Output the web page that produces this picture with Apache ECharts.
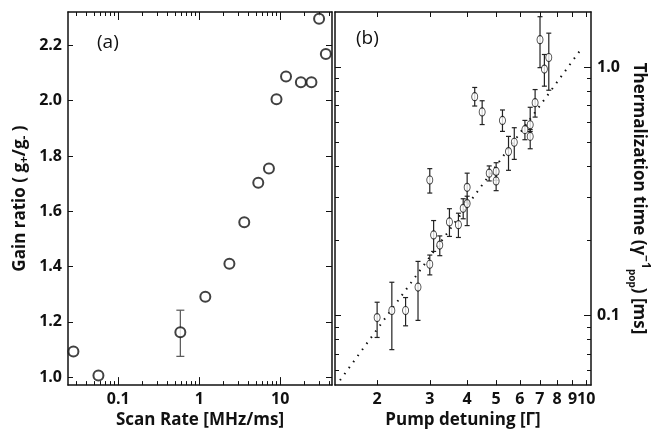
<!DOCTYPE html>
<html>
<head>
<meta charset="utf-8">
<script src="https://cdn.jsdelivr.net/npm/echarts@6/dist/echarts.min.js"></script>
<style>
  html, body { margin: 0; padding: 0; background: #fff; }
  #chart { width: 652px; height: 434px; }
</style>
</head>
<body>
<div id="chart"></div>
<script>
// panel (a): gain ratio vs scan rate
const scanRate = [0.028, 0.057, 0.585, 1.19, 2.36, 3.6, 5.36, 7.26, 9.0, 11.8, 18.0, 24.3, 30.2, 36.6];
const gainRatio = [1.093, 1.006, 1.162, 1.291, 1.41, 1.56, 1.703, 1.755, 2.005, 2.088, 2.067, 2.067, 2.297, 2.169];
const gainLow = [null, null, 1.075, null, null, null, null, null, null, null, null, null, null, null];
const gainHigh = [null, null, 1.242, null, null, null, null, null, null, null, null, null, null, null];
const gainTicks = [1.0, 1.2, 1.4, 1.6, 1.8, 2.0, 2.2];
const scanMajor = [0.1, 1, 10];
const scanMinor = [0.03, 0.04, 0.05, 0.06, 0.07, 0.08, 0.09, 0.2, 0.3, 0.4, 0.5, 0.6, 0.7, 0.8, 0.9,
                   2, 3, 4, 5, 6, 7, 8, 9, 20, 30, 40];

// panel (b): thermalization time vs pump detuning
const detuning = [2.0, 2.24, 2.49, 2.74, 3.0, 3.0, 3.09, 3.24, 3.49, 3.74, 3.88, 4.0, 4.0, 4.24, 4.49,
                  4.74, 5.0, 5.0, 5.25, 5.5, 5.75, 6.24, 6.5, 6.5, 6.75, 7.01, 7.25, 7.5];
const thermTime = [0.098, 0.1047, 0.1047, 0.130, 0.1607, 0.351, 0.211, 0.192, 0.238, 0.232, 0.270, 0.282, 0.328, 0.76, 0.66,
                   0.374, 0.38, 0.348, 0.61, 0.457, 0.498, 0.56, 0.586, 0.526, 0.719, 1.29, 0.982, 1.093];
const thermLow = [0.0815, 0.0728, 0.0908, 0.0955, 0.1456, 0.311, 0.181, 0.174, 0.208, 0.206, 0.245, 0.23, 0.286, 0.697, 0.587,
                  0.348, 0.35, 0.318, 0.551, 0.384, 0.425, 0.51, 0.55, 0.469, 0.629, 0.995, 0.838, 0.807];
const thermHigh = [0.113, 0.136, 0.118, 0.165, 0.175, 0.390, 0.241, 0.209, 0.269, 0.258, 0.295, 0.302, 0.374, 0.828, 0.732,
                   0.4, 0.412, 0.37, 0.672, 0.526, 0.570, 0.61, 0.689, 0.56, 0.812, 1.596, 1.124, 1.37];
const fitX = [1.503, 9.66];
const fitY = [0.0548, 1.19];
const detTicks = [2, 3, 4, 5, 6, 7, 8, 9, 10];
const timeMajor = [0.1, 1];
const timeMinor = [0.06, 0.07, 0.08, 0.09, 0.2, 0.3, 0.4, 0.5, 0.6, 0.7, 0.8, 0.9];

const FONT = 'Open Sans';
const black = '#111';

function errBars(xs, lo, hi) {
  const out = [];
  xs.forEach(function (x, i) {
    if (lo[i] != null && hi[i] != null) out.push([x, lo[i], hi[i]]);
  });
  return out;
}

function errRender(cap, color, width) {
  return function (params, api) {
    const p0 = api.coord([api.value(0), api.value(1)]);
    const p1 = api.coord([api.value(0), api.value(2)]);
    const st = { stroke: color, lineWidth: width };
    return {
      type: 'group',
      children: [
        { type: 'line', shape: { x1: p0[0], y1: p0[1], x2: p1[0], y2: p1[1] }, style: st },
        { type: 'line', shape: { x1: p0[0] - cap, y1: p0[1], x2: p0[0] + cap, y2: p0[1] }, style: st },
        { type: 'line', shape: { x1: p1[0] - cap, y1: p1[1], x2: p1[0] + cap, y2: p1[1] }, style: st }
      ]
    };
  };
}

// helper for a tick-only axis (mirrored frame ticks, minor ticks)
function tickAxis(base, extra) {
  return Object.assign({
    axisLine: { show: false },
    axisLabel: { show: false },
    splitLine: { show: false },
    axisTick: { show: true, inside: true, length: 4, lineStyle: { color: black, width: 1 } }
  }, base, extra);
}

const lineStyle = { color: black, width: 1.5 };
const labelStyle = { color: black, fontFamily: FONT, fontWeight: 'bold', fontSize: 16 };
const nameStyle = { color: black, fontFamily: FONT, fontWeight: 'bold', fontSize: 17 };

const scanBase = { type: 'log', gridIndex: 0, min: 0.024, max: 43.6 };
const gainBase = { type: 'value', gridIndex: 0, min: 0.971, max: 2.321 };
const detBase = { type: 'log', gridIndex: 1, min: 1.446, max: 10.38 };
const timeBase = { type: 'log', gridIndex: 1, min: 0.0524, max: 1.667 };

let myChart = echarts.init(document.getElementById('chart'));
let option = {
  animation: false,
  grid: [
    { left: 68, top: 12, width: 264, height: 376 },
    { left: 335, top: 12, width: 259, height: 376 }
  ],
  xAxis: [
    Object.assign({}, scanBase, {
      position: 'bottom',
      axisLine: { show: true, lineStyle: lineStyle },
      splitLine: { show: false },
      axisTick: { inside: true, length: 8, customValues: scanMajor, lineStyle: { color: black } },
      axisLabel: Object.assign({ customValues: scanMajor, margin: 6, formatter: function (v) { return String(v); } }, labelStyle),
      name: 'Scan Rate [MHz/ms]', nameLocation: 'middle', nameGap: 24, nameTextStyle: nameStyle
    }),
    tickAxis(scanBase, { position: 'bottom', axisTick: { inside: true, length: 4, customValues: scanMinor, lineStyle: { color: black } } }),
    tickAxis(scanBase, { position: 'top', axisLine: { show: true, lineStyle: lineStyle },
      axisTick: { inside: true, length: 8, customValues: scanMajor, lineStyle: { color: black } } }),
    tickAxis(scanBase, { position: 'top', axisTick: { inside: true, length: 4, customValues: scanMinor, lineStyle: { color: black } } }),
    Object.assign({}, detBase, {
      position: 'bottom',
      axisLine: { show: true, lineStyle: lineStyle },
      splitLine: { show: false },
      axisTick: { inside: true, length: 5, customValues: detTicks, lineStyle: { color: black } },
      axisLabel: Object.assign({ customValues: detTicks, margin: 6, formatter: function (v) { return String(Math.round(v)); } }, labelStyle),
      name: 'Pump detuning [Γ]', nameLocation: 'middle', nameGap: 24, nameTextStyle: nameStyle
    }),
    tickAxis(detBase, { position: 'top', axisLine: { show: true, lineStyle: lineStyle },
      axisTick: { inside: true, length: 5, customValues: detTicks, lineStyle: { color: black } } })
  ],
  yAxis: [
    Object.assign({}, gainBase, {
      position: 'left',
      axisLine: { show: true, onZero: false, lineStyle: lineStyle },
      splitLine: { show: false },
      axisTick: { inside: true, length: 5, customValues: gainTicks, lineStyle: { color: black } },
      axisLabel: Object.assign({ customValues: gainTicks, margin: 6, formatter: function (v) { return v.toFixed(1); } }, labelStyle),
      name: 'Gain ratio ( g{sub|+}/g{sub|-} )', nameLocation: 'middle', nameGap: 37, nameRotate: 90,
      nameTextStyle: Object.assign({ rich: { sub: { fontFamily: FONT, fontWeight: 'bold', fontSize: 12, color: black, verticalAlign: 'bottom', lineHeight: 22 } }, lineHeight: 22 }, nameStyle)
    }),
    tickAxis(gainBase, { position: 'right', axisLine: { show: true, onZero: false, lineStyle: lineStyle },
      axisTick: { inside: true, length: 6, customValues: gainTicks, lineStyle: { color: black } } }),
    Object.assign({}, timeBase, {
      position: 'right',
      axisLine: { show: true, onZero: false, lineStyle: lineStyle },
      splitLine: { show: false },
      axisTick: { inside: true, length: 7, customValues: timeMajor, lineStyle: { color: black } },
      axisLabel: Object.assign({ customValues: timeMajor, margin: 6, formatter: function (v) { return v.toFixed(1); } }, labelStyle),
      name: 'Thermalization time (γ{sup|−1}{sub|pop}) [ms]', nameLocation: 'middle', nameGap: 36, nameRotate: -90,
      nameTextStyle: Object.assign({
        lineHeight: 24,
        rich: {
          sup: { fontFamily: FONT, fontWeight: 'bold', fontSize: 12, color: black, verticalAlign: 'top', lineHeight: 24 },
          sub: { fontFamily: FONT, fontWeight: 'bold', fontSize: 10, color: black, verticalAlign: 'bottom', lineHeight: 24 }
        }
      }, nameStyle)
    }),
    tickAxis(timeBase, { position: 'right', axisTick: { inside: true, length: 4, customValues: timeMinor, lineStyle: { color: black } } }),
    tickAxis(timeBase, { position: 'left', axisLine: { show: true, onZero: false, lineStyle: lineStyle },
      axisTick: { inside: true, length: 6, customValues: timeMajor, lineStyle: { color: black } } }),
    tickAxis(timeBase, { position: 'left', axisTick: { inside: true, length: 4, customValues: timeMinor, lineStyle: { color: black } } })
  ],
  graphic: [
    { type: 'text', left: 97, top: 33, style: { text: '(a)', font: '19px "Open Sans"', fill: black } },
    { type: 'text', left: 356, top: 29, style: { text: '(b)', font: '19px "Open Sans"', fill: black } }
  ],
  series: [
    {
      type: 'custom', xAxisIndex: 0, yAxisIndex: 0, z: 1,
      renderItem: errRender(4, '#555', 1.2),
      encode: { x: 0, y: [1, 2] },
      data: errBars(scanRate, gainLow, gainHigh)
    },
    {
      type: 'scatter', xAxisIndex: 0, yAxisIndex: 0, z: 3,
      symbol: 'circle', symbolSize: 10,
      itemStyle: { color: '#fff', borderColor: black, borderWidth: 2 },
      data: scanRate.map(function (x, i) { return [x, gainRatio[i]]; })
    },
    {
      type: 'line', xAxisIndex: 4, yAxisIndex: 2, z: 1,
      symbol: 'none',
      lineStyle: { color: black, width: 2, type: [1.5, 6] },
      data: fitX.map(function (x, i) { return [x, fitY[i]]; })
    },
    {
      type: 'custom', xAxisIndex: 4, yAxisIndex: 2, z: 2,
      renderItem: errRender(2.5, '#222', 1.2),
      encode: { x: 0, y: [1, 2] },
      data: errBars(detuning, thermLow, thermHigh)
    },
    {
      type: 'scatter', xAxisIndex: 4, yAxisIndex: 2, z: 3,
      symbol: 'circle', symbolSize: [6, 8],
      itemStyle: { color: '#fff', borderColor: black, borderWidth: 1 },
      data: detuning.map(function (x, i) { return [x, thermTime[i]]; })
    }
  ]
};
myChart.setOption(option);
</script>
</body>
</html>
